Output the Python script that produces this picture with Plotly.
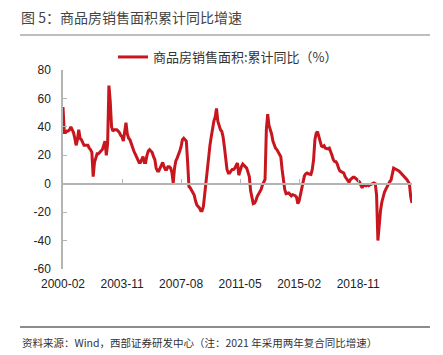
import pandas as pd
import plotly.graph_objects as go

# ---------------- data ----------------
months = list(pd.period_range("2000-02", periods=267, freq="M").strftime("%Y-%m"))

sales_area_yoy = [
    54, 36, 36, 37, 37, 38, 40, 38, 36, 32,
    27, 31, 38, 32, 31, 29, 27, 27, 27, 27,
    25, 24, 22, 5, 15, 19, 21, 21, 22, 23,
    24, 27, 30, 20, 28, 69, 58, 40, 37, 38,
    38, 38, 37, 36, 34, 33, 30, 38, 43, 35,
    32, 31, 28, 25, 23, 21, 19, 18, 15, 15,
    17, 19, 15, 15, 20, 23, 24, 23, 22, 19,
    17, 11, 9, 9, 11, 12, 15, 12, 10, 10,
    12, 12, 11, 8, 0.5, 11, 16, 18, 20, 23,
    26, 31, 32, 31, 30, 15, -2, -3, -5, -7,
    -8, -12, -15, -16, -17, -19, -19, -16, -7, 2,
    14, 22, 27, 33, 40, 44, 47, 53, 44, 41,
    38, 37, 33, 26, 16, 10, 7.5, 7.5, 9, 10,
    10, 11, 13, 14.5, 6, 10, 12, 13.8, 13, 12,
    11, 8, 5, -5, -11, -14, -13.6, -12, -9, -7.5,
    -5.4, -4, -1, 1, 3, 38, 49, 41, 38, 35,
    30, 27, 25, 24, 22, 20, 19, 10, 2, -4,
    -7, -7, -6.5, -7.5, -8.5, -7.7, -8, -8.4, -9.5, -14,
    -12, -8, -4, 2, 5.5, 7, 7.5, 7, 7, 6.5,
    10, 17, 31, 35.5, 36.7, 33, 28, 26.5, 26, 26.7,
    25, 24.5, 24.5, 25, 23, 20, 17, 15.7, 15.5, 14,
    11, 9, 8.5, 8, 7.5, 5, 3.5, 2, 1, 2.8,
    4, 4.5, 4.5, 4, 3, 2, 1.2, -1, -3, -1,
    -1.5, -1.5, -0.7, -1.4, -0.8, -0.2, 0.3, 0.5, 0, -8,
    -40, -28, -19, -13, -9, -6, -4, -2, 0, 1.3,
    2.6, 6, 11, 10.5, 10, 9.8, 9, 8, 7, 6.3,
    5, 4, 3, 1.5, 0, -9, -13.6,
]

x_tick_labels = ["2000-02", "2003-11", "2007-08", "2011-05", "2015-02", "2018-11"]
y_tick_values = [80, 60, 40, 20, 0, -20, -40, -60]
y_tick_labels = [str(v) for v in y_tick_values]

series_name = "商品房销售面积:累计同比（%）"
title_text = "图 5：商品房销售面积累计同比增速"
source_text = "资料来源：Wind，西部证券研发中心（注：2021 年采用两年复合同比增速）"

# ---------------- layout geometry ----------------
W, H = 443, 355
ML, MR, MT, MB = 63, 31, 70, 86
PW, PH = W - ML - MR, H - MT - MB

def px_x(px):
    return (px - ML) / PW

def px_y(py):
    return (H - MB - py) / PH

y_min, y_max = min(y_tick_values), max(y_tick_values)
zero_pos = (0 - y_min) / (y_max - y_min)

RED = "#C8161E"
AXIS_GREY = "#B4B4B4"
TXT = "#222222"
FONT = "Liberation Sans, Arial, Noto Sans CJK SC, sans-serif"
CJK = "Noto Sans CJK SC, sans-serif"

fig = go.Figure()
fig.add_trace(go.Scatter(
    x=months, y=sales_area_yoy, mode="lines", name=series_name,
    line=dict(color=RED, width=3), xaxis="x", yaxis="y",
))
# invisible copy so the zero-line category axis (x2) is rendered
fig.add_trace(go.Scatter(
    x=months, y=sales_area_yoy, mode="lines", showlegend=False,
    opacity=0, hoverinfo="skip", xaxis="x2", yaxis="y",
))

fig.update_layout(
    width=W, height=H, autosize=False,
    margin=dict(l=ML, r=MR, t=MT, b=MB, pad=0, autoexpand=False),
    paper_bgcolor="white", plot_bgcolor="white",
    font=dict(family=FONT, size=12, color=TXT),
    title=dict(text=title_text, xref="container", yref="container",
               x=21 / W, xanchor="left", y=1 - 18 / H, yanchor="middle",
               font=dict(family=CJK, size=14, color="#444444")),
    showlegend=True,
    legend=dict(orientation="h", xref="paper", yref="paper",
                x=px_x(113), xanchor="left", y=px_y(57), yanchor="middle",
                font=dict(family=CJK, size=13, color="#333333"),
                bgcolor="rgba(0,0,0,0)", itemwidth=30),
    xaxis=dict(
        type="category", range=[0, len(months) - 1],
        tickmode="array", tickvals=x_tick_labels, ticktext=x_tick_labels,
        showline=False, ticks="", showgrid=False, zeroline=False,
        tickfont=dict(family=FONT, size=12, color=TXT),
        ticklabelstandoff=6,
    ),
    xaxis2=dict(
        type="category", overlaying="x", anchor="free", position=zero_pos,
        range=[0, len(months) - 1],
        tickmode="array", tickvals=x_tick_labels,
        showticklabels=False, showline=True, linecolor=AXIS_GREY, linewidth=1.5,
        ticks="inside", ticklen=4, tickcolor=AXIS_GREY, tickwidth=1,
        showgrid=False, zeroline=False,
    ),
    yaxis=dict(
        range=[y_min, y_max], tickmode="array",
        tickvals=y_tick_values, ticktext=y_tick_labels,
        showline=True, linecolor=AXIS_GREY, linewidth=1.5,
        ticks="inside", ticklen=4, tickcolor=AXIS_GREY, tickwidth=1,
        showgrid=False, zeroline=False,
        tickfont=dict(family=FONT, size=12, color=TXT),
        ticklabelstandoff=8,
    ),
    shapes=[
        dict(type="line", xref="paper", yref="paper",
             x0=px_x(20), x1=px_x(430), y0=px_y(35), y1=px_y(35),
             line=dict(color="#7F7F7F", width=1.2)),
        dict(type="line", xref="paper", yref="paper",
             x0=px_x(20), x1=px_x(430), y0=px_y(327), y1=px_y(327),
             line=dict(color="#8C8C8C", width=1.8)),
    ],
    annotations=[
        dict(text=source_text, xref="paper", yref="paper",
             x=px_x(20), y=px_y(342), xanchor="left", yanchor="middle",
             showarrow=False, font=dict(family=CJK, size=10.5, color="#333333")),
    ],
)

fig.write_html(
    "out.html",
    config={"displayModeBar": False},
    post_script="document.body.style.margin='0';document.body.style.overflow='hidden';",
)
